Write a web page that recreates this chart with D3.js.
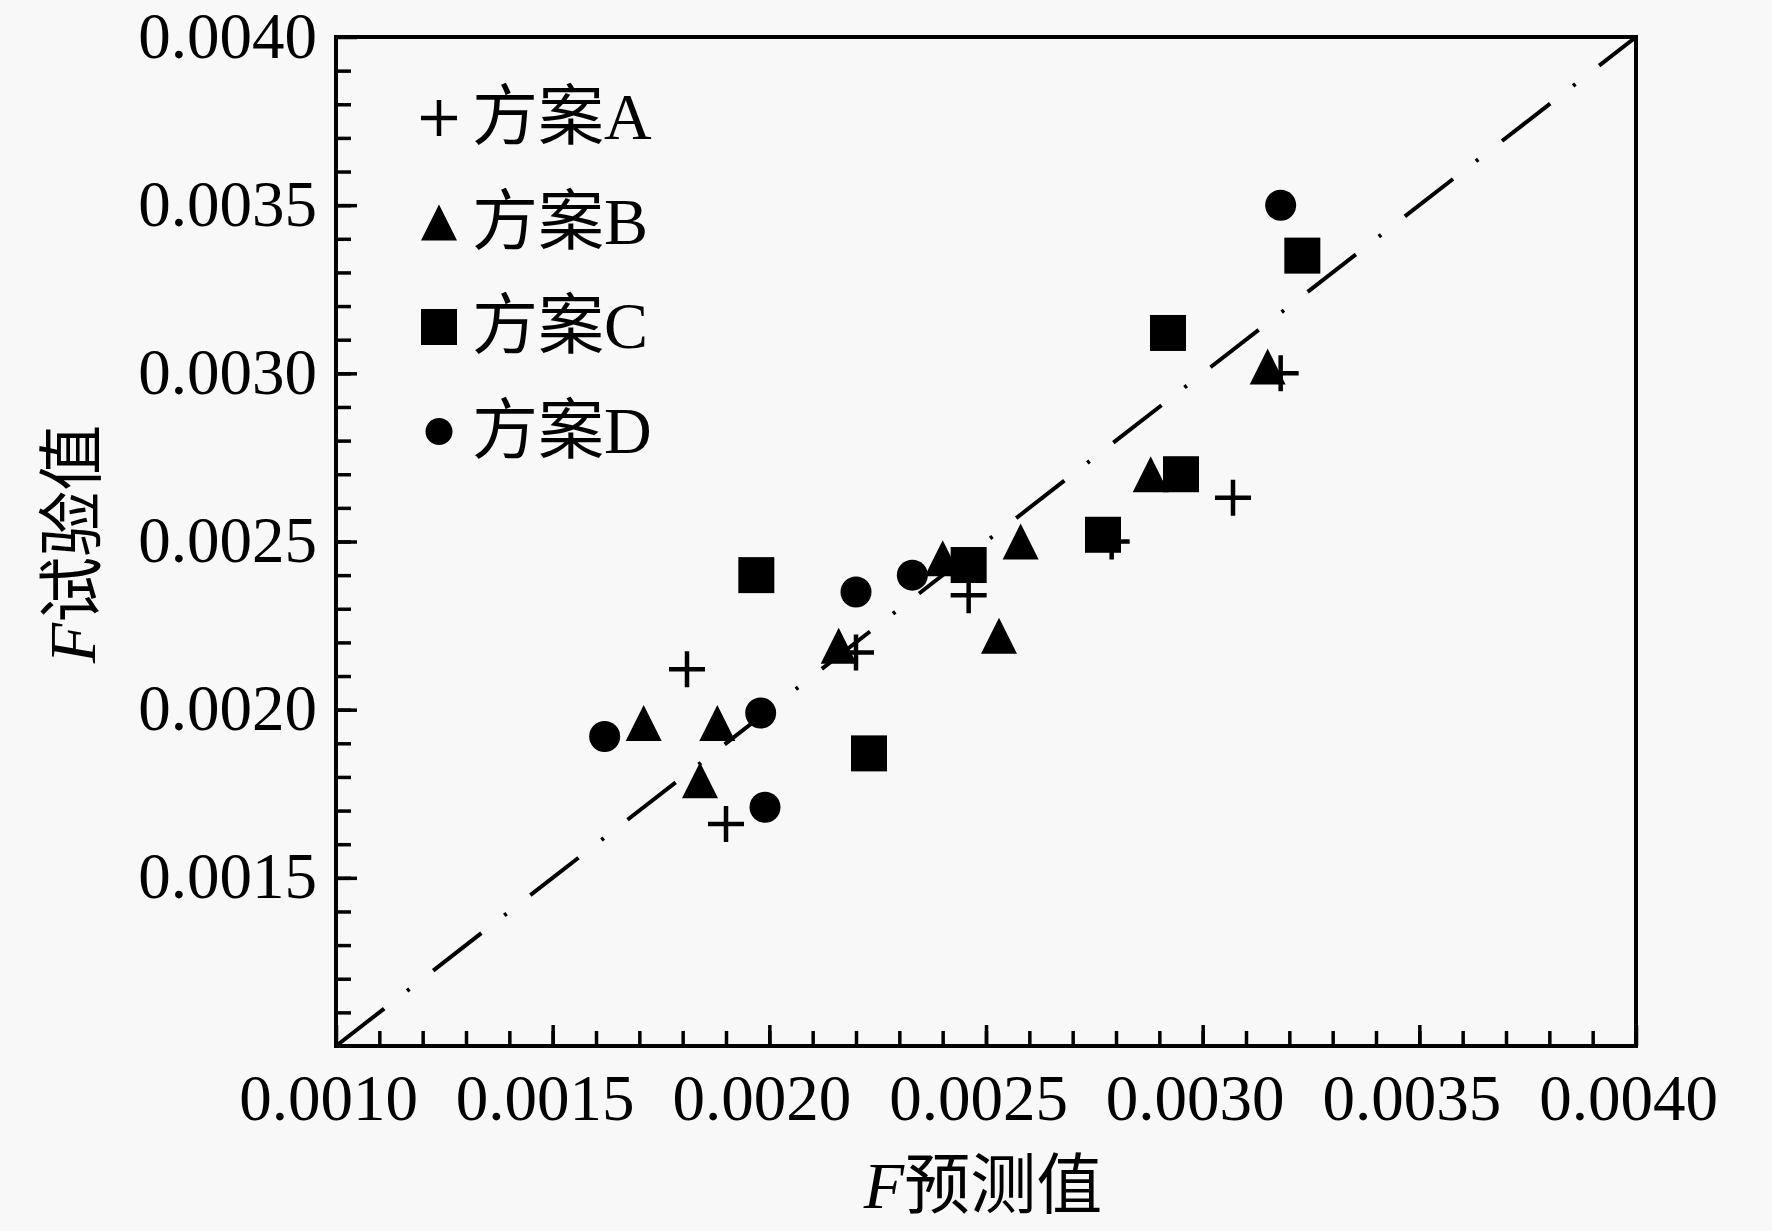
<!DOCTYPE html>
<html>
<head>
<meta charset="utf-8">
<script src="https://cdn.jsdelivr.net/npm/d3@7"></script>
<style>
  body { margin: 0; background: #f8f8f8; }
  svg { display: block; }
  text { font-family: 'Liberation Serif', 'Times New Roman', 'Noto Sans CJK SC', serif; fill: #000; }
</style>
</head>
<body>
<svg width="1772" height="1231"></svg>
<script>
'use strict'

// tick labels
const xTicks = [0.0010, 0.0015, 0.0020, 0.0025, 0.0030, 0.0035, 0.0040];
const yTicks = [0.0015, 0.0020, 0.0025, 0.0030, 0.0035, 0.0040];
const minorTicks = d3.range(11, 40).map(d => d / 10000);

const seriesNames = ['方案A', '方案B', '方案C', '方案D'];

// F predicted (x) / F tested (y)
const predA = [0.00181, 0.00190, 0.00220, 0.00246, 0.00279, 0.00307, 0.00318];
const testA = [0.00212, 0.00166, 0.00217, 0.00234, 0.00250, 0.00263, 0.00300];

const predB = [0.00171, 0.00184, 0.00188, 0.00216, 0.00240, 0.00253, 0.00258, 0.00288, 0.00315];
const testB = [0.00196, 0.00179, 0.00196, 0.00219, 0.00245, 0.00222, 0.00250, 0.00270, 0.00302];

const predC = [0.00197, 0.00223, 0.00246, 0.00277, 0.00292, 0.00295, 0.00323];
const testC = [0.00240, 0.00187, 0.00243, 0.00252, 0.00312, 0.00270, 0.00335];

const predD = [0.00162, 0.00198, 0.00199, 0.00220, 0.00233, 0.00318];
const testD = [0.00192, 0.00199, 0.00171, 0.00235, 0.00240, 0.00350];

const LEFT = 336, RIGHT = 1636, TOP = 37, BOTTOM = 1046;
const FS = 65;

const svg = d3.select('svg');

const x = d3.scaleLinear().domain([0.001, 0.004]).range([LEFT, RIGHT]);
const y = d3.scaleLinear().domain([0.001, 0.004]).range([BOTTOM, TOP]);

// diagonal reference line
svg.append('line')
  .attr('x1', x(0.001)).attr('y1', y(0.001))
  .attr('x2', x(0.004)).attr('y2', y(0.004))
  .attr('stroke', '#000')
  .attr('stroke-width', 4)
  .attr('stroke-dasharray', '61,29,3,30');

// axes: minor then major ticks, pointing inward
const fmt = d3.format('.4f');

svg.append('g')
  .attr('transform', `translate(0,${BOTTOM})`)
  .call(d3.axisBottom(x).tickValues(minorTicks).tickSize(-15).tickFormat(''))
  .call(g => g.select('.domain').remove());

const xAxis = svg.append('g')
  .attr('transform', `translate(0,${BOTTOM})`)
  .call(d3.axisBottom(x).tickValues(xTicks).tickSize(-21).tickFormat(fmt))
  .call(g => g.select('.domain').remove());

svg.append('g')
  .attr('transform', `translate(${LEFT},0)`)
  .call(d3.axisLeft(y).tickValues(minorTicks).tickSize(-15).tickFormat(''))
  .call(g => g.select('.domain').remove());

const yAxis = svg.append('g')
  .attr('transform', `translate(${LEFT},0)`)
  .call(d3.axisLeft(y).tickValues(yTicks).tickSize(-21).tickFormat(fmt))
  .call(g => g.select('.domain').remove());

svg.selectAll('.tick line').attr('stroke', '#000').attr('stroke-width', 3.5);

xAxis.selectAll('text')
  .attr('font-family', null)
  .attr('font-size', FS)
  .attr('x', -8)
  .attr('y', 74)
  .attr('dy', null)
  .attr('fill', '#000');

yAxis.selectAll('text')
  .attr('font-family', null)
  .attr('font-size', FS)
  .attr('x', -19)
  .attr('dy', 20)
  .attr('fill', '#000');

// frame
svg.append('rect')
  .attr('x', LEFT).attr('y', TOP)
  .attr('width', RIGHT - LEFT).attr('height', BOTTOM - TOP)
  .attr('fill', 'none')
  .attr('stroke', '#000')
  .attr('stroke-width', 4);

// markers
function triPath(s) {
  const h = s / 2;
  return `M0,${-h}L${h},${h}L${-h},${h}Z`;
}

function drawPlus(sel, size) {
  sel.append('path')
    .attr('d', `M${-size / 2},0H${size / 2}M0,${-size / 2}V${size / 2}`)
    .attr('stroke', '#000')
    .attr('stroke-width', 4.5)
    .attr('fill', 'none');
}

const zip = (px, py) => px.map((d, i) => ({ x: d, y: py[i] }));

const gD = svg.append('g');
gD.selectAll('circle')
  .data(zip(predD, testD))
  .join('circle')
  .attr('cx', d => x(d.x))
  .attr('cy', d => y(d.y))
  .attr('r', 15.5)
  .attr('fill', '#000');

const gC = svg.append('g');
gC.selectAll('rect')
  .data(zip(predC, testC))
  .join('rect')
  .attr('x', d => x(d.x) - 18)
  .attr('y', d => y(d.y) - 18)
  .attr('width', 36)
  .attr('height', 36)
  .attr('fill', '#000');

const gB = svg.append('g');
gB.selectAll('path')
  .data(zip(predB, testB))
  .join('path')
  .attr('transform', d => `translate(${x(d.x)},${y(d.y)})`)
  .attr('d', triPath(36))
  .attr('fill', '#000');

const gA = svg.append('g');
gA.selectAll('g')
  .data(zip(predA, testA))
  .join('g')
  .attr('transform', d => `translate(${x(d.x)},${y(d.y)})`)
  .call(drawPlus, 36);

// legend
const legend = svg.append('g');
const rowY = i => 118 + i * 104.5;
seriesNames.forEach((name, i) => {
  const row = legend.append('g').attr('transform', `translate(439,${rowY(i)})`);
  if (i === 0) drawPlus(row, 36);
  if (i === 1) row.append('path').attr('d', triPath(36)).attr('fill', '#000');
  if (i === 2) row.append('rect').attr('x', -18).attr('y', -18).attr('width', 36).attr('height', 36).attr('fill', '#000');
  if (i === 3) row.append('circle').attr('r', 13.5).attr('fill', '#000');
  row.append('text')
    .attr('x', 33)
    .attr('y', 21)
    .attr('font-size', 66)
    .text(name);
});

// axis titles
const xTitle = svg.append('text')
  .attr('x', 983)
  .attr('y', 1208)
  .attr('text-anchor', 'middle')
  .attr('font-size', 66);
xTitle.append('tspan').attr('font-style', 'italic').text('F');
xTitle.append('tspan').text('预测值');

const yTitle = svg.append('text')
  .attr('transform', 'translate(95,544) rotate(-90)')
  .attr('text-anchor', 'middle')
  .attr('font-size', 66);
yTitle.append('tspan').attr('font-style', 'italic').text('F');
yTitle.append('tspan').text('试验值');
</script>
</body>
</html>
